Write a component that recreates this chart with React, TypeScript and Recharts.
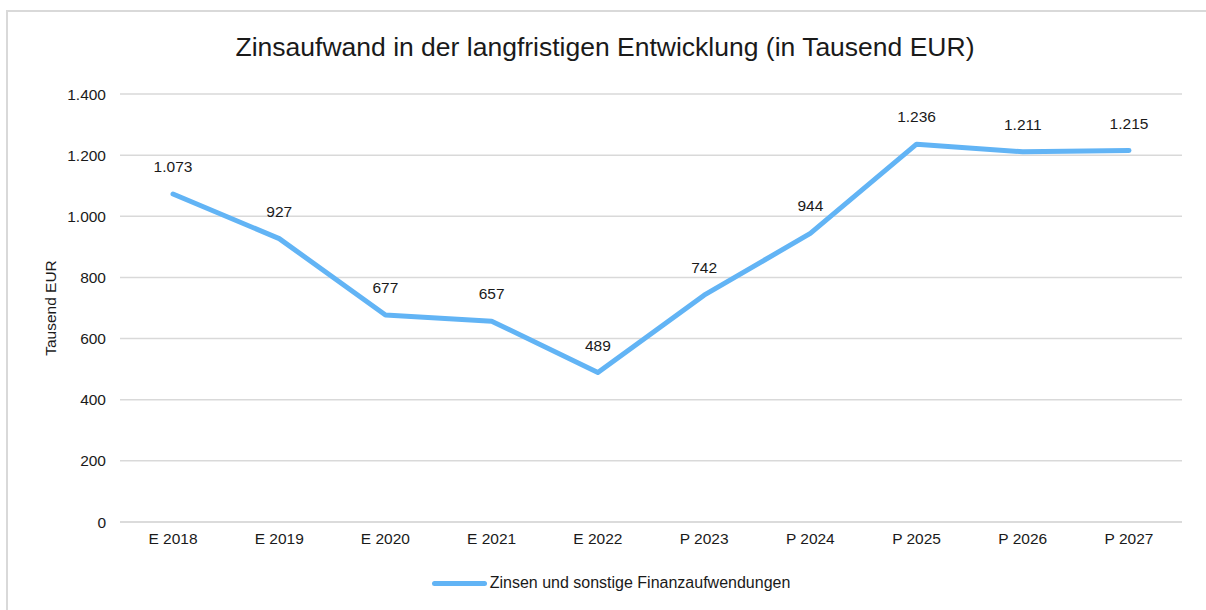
import React from 'react';
import { LineChart, Line, XAxis, YAxis, CartesianGrid, LabelList } from 'recharts';

const years = ['E 2018', 'E 2019', 'E 2020', 'E 2021', 'E 2022', 'P 2023', 'P 2024', 'P 2025', 'P 2026', 'P 2027'];
const zinsen = [1073, 927, 677, 657, 489, 742, 944, 1236, 1211, 1215];
const yTicks = [0, 200, 400, 600, 800, 1000, 1200, 1400];

const seriesName = 'Zinsen und sonstige Finanzaufwendungen';
const title = 'Zinsaufwand in der langfristigen Entwicklung (in Tausend EUR)';

const data = years.map((year, i) => ({ year, value: zinsen[i] }));

const FONT = '"Liberation Sans", Arial, sans-serif';
const LINE_COLOR = '#62B4F5';
const TEXT = '#1a1a1a';
const GRID = '#d9d9d9';
const FS = 15.5;

// German thousands separator: 1.400
const fmt = (n: number) => String(n).replace(/\B(?=(\d{3})+(?!\d))/g, '.');

const PointLabel = (props: any) => {
  const { x, y, value } = props;
  return (
    <text x={x} y={y - 22} textAnchor="middle" fontSize={FS} fill={TEXT} fontFamily={FONT}>
      {fmt(value)}
    </text>
  );
};

export default function App() {
  return (
    <div style={{ position: 'absolute', left: 0, top: 0, width: 1206, height: 610, background: '#fff', overflow: 'hidden', fontFamily: FONT }}>
      <div style={{ position: 'absolute', left: 6, top: 10, width: 1220, height: 620, border: `2px solid ${GRID}`, boxSizing: 'border-box' }} />
      <div style={{ position: 'absolute', left: 6, top: 30, width: 1198, textAlign: 'center', fontSize: 26.5, color: TEXT, lineHeight: '34px' }}>
        {title}
      </div>
      <div style={{ position: 'absolute', left: 0, top: 0 }}>
        <LineChart width={1206} height={610} data={data} margin={{ top: 94, right: 24, bottom: 58, left: 60 }}>
          <CartesianGrid vertical={false} stroke={GRID} strokeWidth={1.5} />
          <XAxis
            dataKey="year"
            height={30}
            padding={{ left: 53, right: 53 }}
            axisLine={{ stroke: GRID, strokeWidth: 1.5 }}
            tickLine={false}
            tickSize={6}
            tickMargin={5}
            tick={{ fontSize: FS, fill: TEXT, fontFamily: FONT }}
            interval={0}
          />
          <YAxis
            domain={[0, 1400]}
            ticks={yTicks}
            width={60}
            axisLine={false}
            tickLine={false}
            tickSize={6}
            tickMargin={8}
            tickFormatter={fmt}
            tick={{ fontSize: FS, fill: TEXT, fontFamily: FONT }}
            label={{ value: 'Tausend EUR', angle: -90, position: 'insideLeft', offset: -10, style: { fontSize: FS, fill: TEXT, fontFamily: FONT, textAnchor: 'middle' } }}
          />
          <Line
            type="linear"
            dataKey="value"
            name={seriesName}
            stroke={LINE_COLOR}
            strokeWidth={5}
            strokeLinecap="round"
            strokeLinejoin="round"
            dot={false}
            activeDot={false}
            isAnimationActive={false}
          >
            <LabelList dataKey="value" content={PointLabel} />
          </Line>
        </LineChart>
      </div>
      <div style={{ position: 'absolute', left: 0, top: 574, width: 1222, display: 'flex', justifyContent: 'center', alignItems: 'center', fontSize: 16, color: TEXT }}>
        <span style={{ display: 'inline-block', width: 55, height: 5, borderRadius: 3, background: LINE_COLOR, marginRight: 3 }} />
        <span>{seriesName}</span>
      </div>
    </div>
  );
}
